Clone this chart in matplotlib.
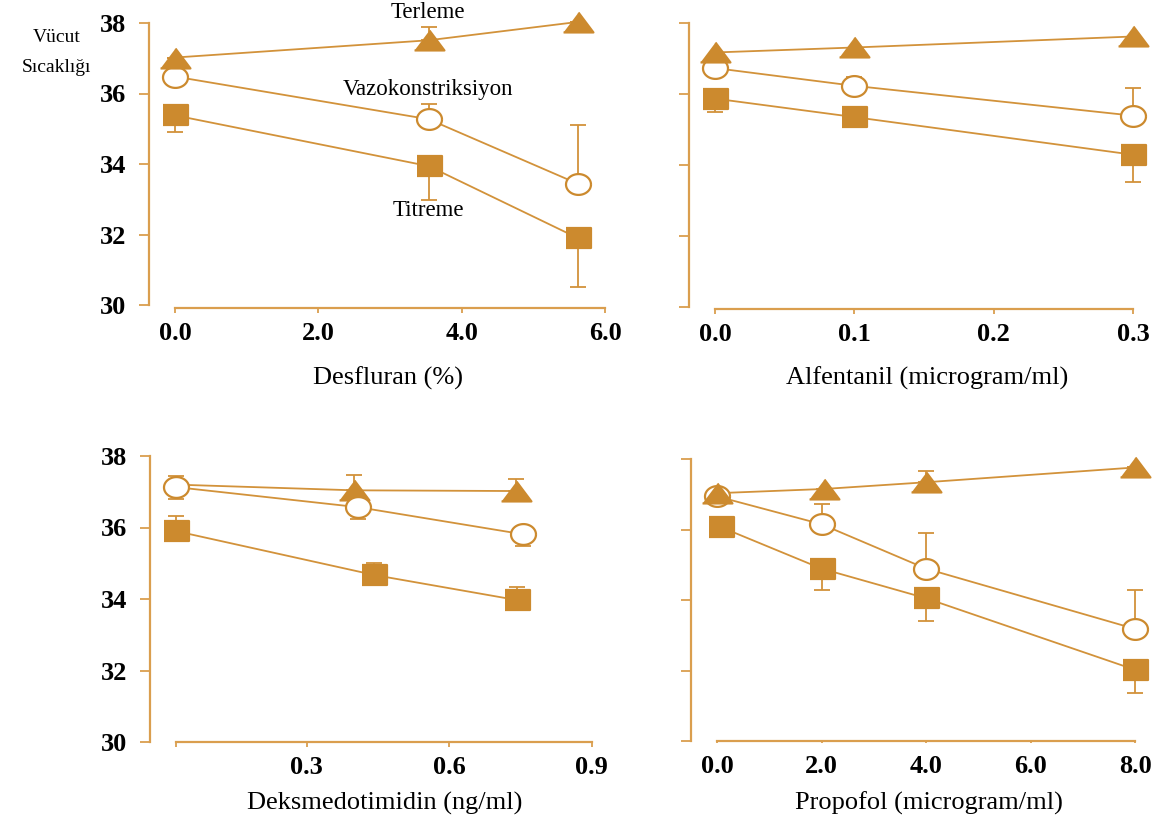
#-----------------------------------------------------------------------------#
# plot.py
# Vucut sicakligi esikleri (terleme / vazokonstriksiyon / titreme)
# dort ilac icin, 2x2 panel.
#-----------------------------------------------------------------------------#

import numpy as np
import matplotlib
matplotlib.use('Agg')
import matplotlib.pyplot as plt

#----------- Data -----------#
# Desfluran (%)
des_x = [0.0, 3.54, 5.62]
des_ter = [37.02, 37.51, 38.03]
des_ter_up = [0, 0.38, 0]
des_vaz = [36.48, 35.27, 33.44]
des_vaz_up = [0, 0.44, 1.66]
des_tit = [35.38, 33.94, 31.90]
des_tit_dn = [0.48, 0.96, 1.38]

# Alfentanil (microgram/ml)
alf_x = [0.0, 0.1, 0.3]
alf_ter = [37.17, 37.31, 37.62]
alf_vaz = [36.73, 36.23, 35.39]
alf_vaz_up = [0, 0.25, 0.78]
alf_tit = [35.87, 35.35, 34.29]
alf_tit_dn = [0.39, 0, 0.78]

# Deksmedotimidin (ng/ml)
dex_ter_x = [0.025, 0.40, 0.74]
dex_ter = [37.20, 37.04, 37.02]
dex_ter_up = [0, 0.43, 0.33]
dex_vaz_x = [0.025, 0.408, 0.756]
dex_vaz = [37.13, 36.57, 35.81]
dex_vaz_up = [0.31, 0, 0]
dex_vaz_dn = [0.32, 0.34, 0.33]
dex_tit_x = [0.025, 0.443, 0.743]
dex_tit = [35.90, 34.67, 33.97]
dex_tit_up = [0.42, 0.34, 0.36]

# Propofol (microgram/ml)
pro_ter_x = [0.0, 2.05, 4.0, 8.0]
pro_ter = [37.03, 37.15, 37.34, 37.76]
pro_ter_up = [0, 0, 0.33, 0]
pro_vaz_x = [0.0, 2.0, 4.0, 8.0]
pro_vaz = [36.94, 36.15, 34.89, 33.18]
pro_vaz_up = [0, 0.58, 1.0, 1.1]
pro_tit_x = [0.07, 2.0, 4.0, 8.0]
pro_tit = [36.07, 34.89, 34.05, 32.02]
pro_tit_dn = [0, 0.61, 0.64, 0.67]

y_ticks = [30, 32, 34, 36, 38]
des_ticks = [0, 2, 4, 6]
des_labels = ['0.0', '2.0', '4.0', '6.0']
alf_ticks = [0, 0.1, 0.2, 0.3]
alf_labels = ['0.0', '0.1', '0.2', '0.3']
dex_ticks = [0.025, 0.3, 0.6, 0.9]
dex_labels = ['', '0.3', '0.6', '0.9']
pro_ticks = [0, 2, 4, 6, 8]
pro_labels = ['0.0', '2.0', '4.0', '6.0', '8.0']

#----------- Style -----------#
W, H = 1165, 823
c_mark = '#CC8A2E'
c_line = '#D2923A'
c_axis = '#DA9E4E'
serif = ['Liberation Serif', 'DejaVu Serif']
plt.rcParams['font.family'] = serif

# marker shapes (the original is a bit stretched sideways)
tri = [(-1.5, -1), (1.5, -1), (0, 1)]
t = np.linspace(0, 2*np.pi, 60)
ell = list(zip(1.2*np.cos(t), np.sin(t)))
sqr = [(-1.25, -1), (1.25, -1), (1.25, 1), (-1.25, 1)]

fig = plt.figure(figsize=(W/100, H/100), dpi=100)
fig.patch.set_facecolor('white')


def px_axes(left, right, top, bottom, xcal, ycal):
    """axes placed in pixels; xcal/ycal = (pix0, val0, pix1, val1)"""
    ax = fig.add_axes([left/W, 1-bottom/H, (right-left)/W, (bottom-top)/H])
    sx = (xcal[2]-xcal[0])/(xcal[3]-xcal[1])
    ax.set_xlim(xcal[1]+(left-xcal[0])/sx, xcal[1]+(right-xcal[0])/sx)
    sy = (ycal[2]-ycal[0])/(ycal[3]-ycal[1])
    ax.set_ylim(ycal[1]+(bottom-ycal[0])/sy, ycal[1]+(top-ycal[0])/sy)
    ax.patch.set_alpha(0)
    for s in ['top', 'right']:
        ax.spines[s].set_visible(False)
    for s in ['left', 'bottom']:
        ax.spines[s].set_color(c_axis)
        ax.spines[s].set_linewidth(1.6)
    ax.spines['left'].set_bounds(30, 38)
    ax.set_yticks(y_ticks)
    ax.tick_params(axis='y', direction='out', length=7.5, width=1.3,
                   color=c_axis, pad=9, labelsize=19)
    ax.tick_params(axis='x', direction='out', length=3.5, width=1.3,
                   color=c_axis, pad=6.5, labelsize=19)
    return ax


def series(ax, x, y, mk, face, up=None, dn=None, ms=18, mevery=None):
    if up is not None or dn is not None:
        lo = dn if dn is not None else [0]*len(y)
        hi = up if up is not None else [0]*len(y)
        ax.errorbar(x, y, yerr=[lo, hi], fmt='none', ecolor=c_line,
                    elinewidth=1.3, capsize=5.5, capthick=1.3, zorder=1)
    ax.plot(x, y, '-', color=c_line, lw=1.3, zorder=2)
    ax.plot(x, y, ls='none', marker=mk, ms=ms, mfc=face, mec=c_mark,
            mew=1.6, markevery=mevery, zorder=3)


def bold_ticks(ax, ticks, labels, show_y):
    ax.set_xticks(ticks)
    ax.set_xticklabels(labels, fontweight='bold')
    if show_y:
        ax.set_yticklabels([str(v) for v in y_ticks], fontweight='bold')
    else:
        ax.tick_params(axis='y', labelleft=False)


def ftext(px, py, s, size, **kw):
    fig.text(px/W, 1-py/H, s, fontsize=size, ha='center', va='center', **kw)


#----------- Desfluran -----------#
ax1 = px_axes(149, 620, 5, 308, (175, 0, 605, 6), (305, 30, 23, 38))
ax1.spines['bottom'].set_bounds(0, 6)
series(ax1, des_x, des_tit, sqr, c_mark, dn=des_tit_dn)
series(ax1, des_x, des_vaz, ell, 'white', up=des_vaz_up)
series(ax1, des_x, des_ter, tri, c_mark, up=des_ter_up, ms=21.5)
bold_ticks(ax1, des_ticks, des_labels, True)

#----------- Alfentanil -----------#
ax2 = px_axes(689, 1160, 5, 309, (715, 0, 1133, 0.3), (307, 30, 23, 38))
ax2.spines['bottom'].set_bounds(0, 0.3)
series(ax2, alf_x, alf_tit, sqr, c_mark, dn=alf_tit_dn)
series(ax2, alf_x, alf_vaz, ell, 'white', up=alf_vaz_up)
series(ax2, alf_x, alf_ter, tri, c_mark, ms=21.5)
bold_ticks(ax2, alf_ticks, alf_labels, False)

#----------- Deksmedotimidin -----------#
ax3 = px_axes(150, 620, 440, 742, (164, 0, 591.5, 0.9), (742, 30, 456, 38))
ax3.spines['bottom'].set_bounds(dex_ticks[0], dex_ticks[-1])
series(ax3, dex_tit_x, dex_tit, sqr, c_mark, up=dex_tit_up)
series(ax3, dex_ter_x, dex_ter, tri, c_mark, up=dex_ter_up, ms=21.5,
       mevery=[1, 2])
series(ax3, dex_vaz_x, dex_vaz, ell, 'white', up=dex_vaz_up, dn=dex_vaz_dn)
bold_ticks(ax3, dex_ticks, dex_labels, True)

#----------- Propofol -----------#
ax4 = px_axes(691, 1160, 440, 741, (717, 0, 1135, 8), (741, 30, 459, 38))
ax4.spines['bottom'].set_bounds(0, 8)
ax4.tick_params(axis='x', length=1.5, pad=8.5)
series(ax4, pro_tit_x, pro_tit, sqr, c_mark, dn=pro_tit_dn)
series(ax4, pro_vaz_x, pro_vaz, ell, 'white', up=pro_vaz_up)
series(ax4, pro_ter_x, pro_ter, tri, c_mark, up=pro_ter_up, ms=21.5)
bold_ticks(ax4, pro_ticks, pro_labels, False)

#----------- Labels -----------#
ftext(388, 378, 'Desfluran (%)', 19)
ftext(927, 378, 'Alfentanil (microgram/ml)', 19)
ftext(385, 803, 'Deksmedotimidin (ng/ml)', 19)
ftext(929, 803, 'Propofol (microgram/ml)', 19)

ftext(428, 13, 'Terleme', 16.5)
ftext(428, 90, 'Vazokonstriksiyon', 16.5)
ftext(428, 210, 'Titreme', 16.5)
ftext(57, 38, 'Vücut', 14)
ftext(56, 67, 'Sıcaklığı', 14)

plt.savefig('out.png', dpi=100, facecolor='white')
